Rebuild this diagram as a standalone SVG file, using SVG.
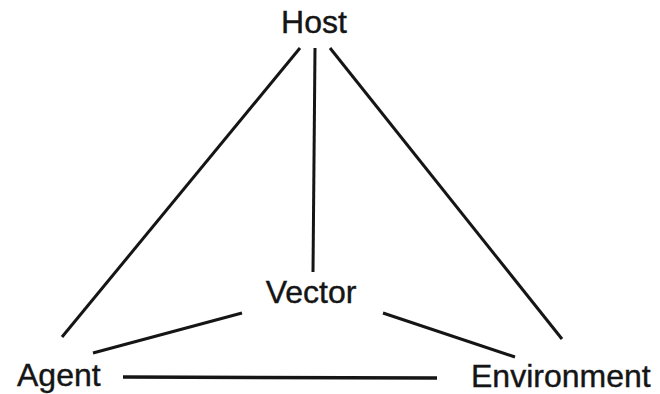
<svg xmlns="http://www.w3.org/2000/svg" width="660" height="394" viewBox="0 0 660 394">
<style>
.lbl{font-family:"Liberation Sans",Arial,sans-serif;font-size:32px;fill:#151515;stroke:#151515;stroke-width:0.4}
.ln{stroke:#151515;stroke-width:3;stroke-linecap:butt;fill:none}
</style>
<rect x="0" y="0" width="660" height="394" fill="#ffffff"/>
<g id="connectors">
<line class="ln" x1="300" y1="48" x2="62" y2="337"/>
<line class="ln" x1="315" y1="48" x2="313" y2="272"/>
<line class="ln" x1="330" y1="48" x2="562" y2="339"/>
<line class="ln" x1="93" y1="353" x2="242" y2="313"/>
<line class="ln" x1="383" y1="313" x2="515" y2="357"/>
<line class="ln" x1="123" y1="377" x2="437" y2="378" style="stroke-width:3.5"/>
</g>
<g id="host"><text class="lbl" x="314" y="33" text-anchor="middle">Host</text></g>
<g id="vector"><text class="lbl" x="311" y="303" text-anchor="middle">Vector</text></g>
<g id="agent"><text class="lbl" x="17" y="386">Agent</text></g>
<g id="environment"><text class="lbl" x="471" y="387">Environment</text></g>
</svg>
